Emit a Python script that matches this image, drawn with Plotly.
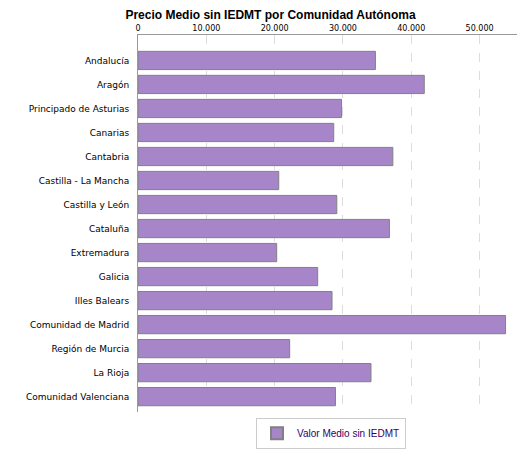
import plotly.graph_objects as go

# Data
regions = ['Andalucía', 'Aragón', 'Principado de Asturias', 'Canarias', 'Cantabria',
           'Castilla - La Mancha', 'Castilla y León', 'Cataluña', 'Extremadura', 'Galicia',
           'Illes Balears', 'Comunidad de Madrid', 'Región de Murcia', 'La Rioja',
           'Comunidad Valenciana']
precio = [34750, 41900, 29800, 28650, 37300, 20600, 29100, 36800, 20300, 26300,
          28400, 53800, 22200, 34100, 28900]
tick_vals = [0, 10000, 20000, 30000, 40000, 50000]
tick_text = ['0', '10.000', '20.000', '30.000', '40.000', '50.000']

fig = go.Figure(go.Bar(
    x=precio, y=regions, orientation='h', name='Valor Medio sin IEDMT',
    marker=dict(color='#a686c9', line=dict(color='#808080', width=1)),
    width=0.76, showlegend=True
))

fig.update_layout(
    width=525, height=450,
    margin=dict(l=130, r=9, t=27, b=27),
    plot_bgcolor='white', paper_bgcolor='white',
    font=dict(family='DejaVu Sans', size=9, color='#000000'),
    title=dict(text='<b>Precio Medio sin IEDMT por Comunidad Autónoma</b>',
               x=0.5, xanchor='center', y=0.995, yanchor='top',
               font=dict(size=12, family='Liberation Sans')),
    xaxis=dict(side='top', range=[0, 56500], tickvals=tick_vals, ticktext=tick_text,
               showgrid=True, gridcolor='#dddddd', griddash='dash',
               showline=True, linecolor='#999999', ticks='', zeroline=False,
               automargin=False, tickfont=dict(size=8)),
    yaxis=dict(range=[14.64, -1.06], showline=True, linecolor='#999999',
               ticks='', ticklabelstandoff=6, automargin=False, tickfont=dict(size=9)),
    legend=dict(orientation='h', x=0.5, xanchor='center', y=-0.015, yanchor='top',
                bordercolor='#cccccc', borderwidth=1, itemwidth=30,
                tracegroupgap=0, itemsizing='constant',
                font=dict(size=10, color='#330066', family='Liberation Sans'))
)

fig.write_html("out.html")
